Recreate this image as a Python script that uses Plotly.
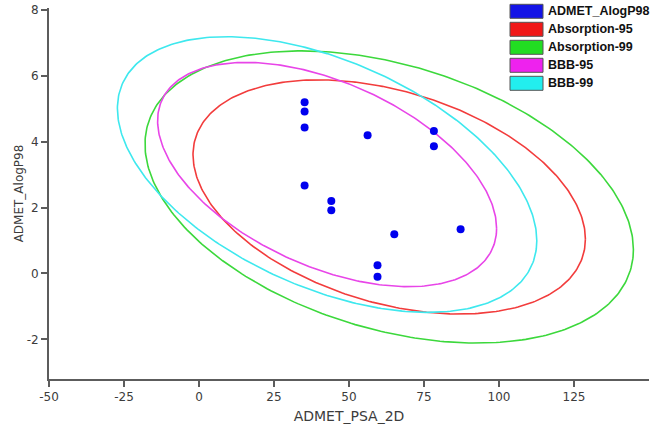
import numpy as np
import plotly.graph_objects as go

# ── compounds: ADMET_PSA_2D vs ADMET_AlogP98 ─────────────────────────────
PSA_2D = [35.2, 35.2, 35.2, 35.2, 44.1, 44.1, 56.2, 78.3, 78.3, 65.1, 87.2, 59.5, 59.5]
ALOGP98 = [5.19, 4.91, 4.43, 2.67, 2.20, 1.92, 4.19, 4.32, 3.86, 1.19, 1.34, 0.25, -0.10]

# ── confidence ellipses (centre, half-widths, correlation) ───────────────
ELLIPSE_NAMES = ["Absorption-95", "Absorption-99", "BBB-95", "BBB-99"]
ELLIPSE_CX = [63.4, 63.4, 42.7, 42.7]
ELLIPSE_CY = [2.32, 2.32, 3.00, 3.00]
ELLIPSE_A = [65.4, 81.4, 56.5, 69.9]
ELLIPSE_B = [3.55, 4.43, 3.40, 4.18]
ELLIPSE_R = [-0.36, -0.36, -0.48, -0.48]
ELLIPSE_COLORS = ["#f23c3c", "#3cd83c", "#e845e8", "#3ee8ee"]

LEGEND_NAMES = ["ADMET_AlogP98"] + ELLIPSE_NAMES
LEGEND_COLORS = ["#1414e6", "#f01818", "#22dd22", "#ee22ee", "#22eeee"]

X_TICKS = [-50, -25, 0, 25, 50, 75, 100, 125]
Y_TICKS = [-2, 0, 2, 4, 6, 8]

FONT = "DejaVu Sans"
AXIS_COLOR = "#5c5c5c"
TEXT_COLOR = "#3c3c3c"


def ellipse_xy(cx, cy, a, b, r, n=361):
    t = np.linspace(0, 2 * np.pi, n)
    x = cx + a * np.cos(t)
    y = cy + b * (r * np.cos(t) + np.sqrt(1 - r * r) * np.sin(t))
    return x, y


fig = go.Figure()

for name, cx, cy, a, b, r, col in zip(ELLIPSE_NAMES, ELLIPSE_CX, ELLIPSE_CY,
                                      ELLIPSE_A, ELLIPSE_B, ELLIPSE_R, ELLIPSE_COLORS):
    ex, ey = ellipse_xy(cx, cy, a, b, r)
    fig.add_trace(go.Scatter(x=ex, y=ey, mode="lines", name=name,
                             line=dict(color=col, width=1.6), showlegend=False,
                             hoverinfo="skip"))

fig.add_trace(go.Scatter(x=PSA_2D, y=ALOGP98, mode="markers", name="ADMET_AlogP98",
                         marker=dict(color="#0000ee", size=8), showlegend=False))

# hand-drawn legend (swatches + bold labels) in the top-right corner
M_L, M_R, M_T, M_B = 49, 12, 8, 53
W, H = 661, 432
plot_w = W - M_L - M_R
plot_h = H - M_T - M_B


def px_to_paper_x(px):
    return (px - M_L) / plot_w


def py_to_paper(py):
    return (H - M_B - py) / plot_h


shapes, annotations = [], []
for i, (lab, col) in enumerate(zip(LEGEND_NAMES, LEGEND_COLORS)):
    yc = 11.3 + 18 * i
    shapes.append(dict(type="rect", xref="paper", yref="paper",
                       x0=px_to_paper_x(510), x1=px_to_paper_x(543),
                       y0=py_to_paper(yc + 7), y1=py_to_paper(yc - 7),
                       fillcolor=col, line=dict(color="#555555", width=1)))
    annotations.append(dict(text=lab, xref="paper", yref="paper",
                            x=px_to_paper_x(546), y=py_to_paper(yc),
                            xanchor="left", yanchor="middle", showarrow=False,
                            font=dict(family="Liberation Sans", size=12.5,
                                      color="#111111", weight="bold")))

fig.update_layout(
    width=W,
    height=H,
    margin=dict(l=M_L, r=M_R, t=M_T, b=M_B),
    paper_bgcolor="white",
    plot_bgcolor="white",
    font=dict(family=FONT, size=12, color=TEXT_COLOR),
    shapes=shapes,
    annotations=annotations,
    showlegend=False,
)
fig.update_xaxes(
    range=[-50, 150], tickvals=X_TICKS, ticktext=[str(v) for v in X_TICKS],
    automargin=False,
    showgrid=False, zeroline=False, showline=True, linecolor=AXIS_COLOR, linewidth=2,
    ticks="outside", ticklen=6, tickwidth=2, tickcolor=AXIS_COLOR,
    tickfont=dict(size=12, color=TEXT_COLOR),
    title=dict(text="ADMET_PSA_2D", font=dict(size=14, color=TEXT_COLOR), standoff=8),
)
fig.update_yaxes(
    range=[-3.2, 8.05], tickvals=Y_TICKS, ticktext=[str(v) for v in Y_TICKS],
    automargin=False,
    showgrid=False, zeroline=False, showline=True, linecolor=AXIS_COLOR, linewidth=2,
    ticks="outside", ticklen=6, tickwidth=2, tickcolor=AXIS_COLOR,
    tickfont=dict(size=12, color=TEXT_COLOR),
    title=dict(text="ADMET_AlogP98", font=dict(size=12, color=TEXT_COLOR), standoff=0),
)

# the page's default body margin would shift the 661x432 figure by 8px
fig.write_html("out.html", config={"displayModeBar": False},
               post_script="document.body.style.margin = '0';")
